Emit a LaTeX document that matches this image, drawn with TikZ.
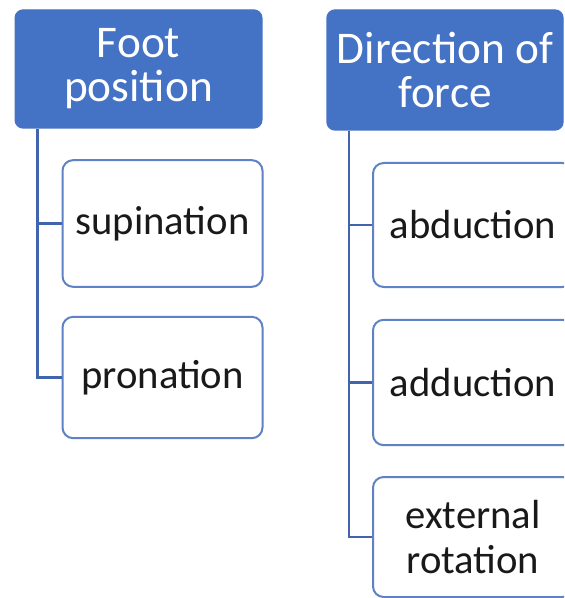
\documentclass[tikz,border=0pt]{standalone}
\usepackage{fontspec}
\setmainfont{Carlito}
\usepackage{xcolor}
\usepackage{tikz}
\usetikzlibrary{positioning}

\definecolor{headblue}{HTML}{4472C4}
\definecolor{boxblue}{HTML}{5F82C4}
\definecolor{lineblue}{HTML}{4264AC}

\begin{document}
\begin{tikzpicture}[
    x = 0.75pt,
    y = -0.75pt,
    head/.style = {draw=headblue, fill=headblue, text=white, rounded corners=6pt,
      line width=1pt, align=center, inner sep=0pt,
      font=\fontsize{34}{33}\selectfont},
    item/.style = {draw=boxblue, fill=white, text=black!90, rounded corners=8pt,
      line width=1.5pt, align=center, inner sep=0pt, minimum width=150pt,
      font=\fontsize{30.5}{34}\selectfont},
    branch/.style = {draw=lineblue, line width=1.7pt}]
    \useasboundingbox (0,0) rectangle (564,598);
    \clip (0,0) rectangle (564,598);
    \fill[white] (0,0) rectangle (564,598);
    % headings
    \node[head, minimum width=185pt, minimum height=88.5pt] (foot) at (138.5,69) {Foot\\position};
    \node[head, minimum width=177pt, minimum height=90pt] (dir) at (445,70) {Direction of\\force};
    % left column
    \node[item, minimum height=95pt] (sup) at (162.5,223.5) {supination};
    \node[item, minimum height=91pt] (pron) at (162.5,377.5) {pronation};
    % right column
    \node[item, minimum height=93pt] (abd) at (473,225) {abduction};
    \node[item, minimum height=94pt] (add) at (473,382.5) {adduction};
    \node[item, minimum height=90pt] (extrot) at (473,537) {external\\rotation};
    % connectors
    \path (foot.south west) ++(23,0) coordinate (ftrunk);
    \path (dir.south west) ++(23,0) coordinate (dtrunk);
    \draw[branch] (ftrunk) |- (pron.west);
    \draw[branch] (sup.west) -- (sup.west -| ftrunk);
    \draw[branch] (dtrunk) |- (extrot.west);
    \draw[branch] (abd.west) -- (abd.west -| dtrunk);
    \draw[branch] (add.west) -- (add.west -| dtrunk);
\end{tikzpicture}
\end{document}
